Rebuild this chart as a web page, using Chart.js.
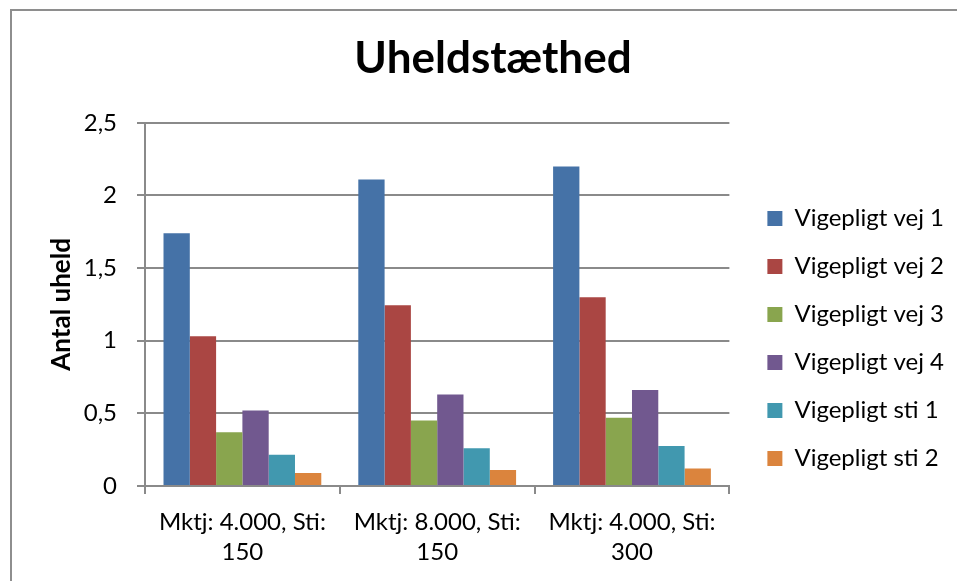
<!DOCTYPE html>
<html>
<head>
<meta charset="utf-8">
<script src="https://cdn.jsdelivr.net/npm/chart.js@4"></script>
<style>
  html, body { margin: 0; padding: 0; background: #fff; overflow: hidden; }
  #frame { position: absolute; left: 10px; top: 9px; width: 1000px; height: 700px; border: 2px solid #8e8e8e; }
  #wrap { position: absolute; left: 0; top: 0; width: 957px; height: 581px; }
</style>
</head>
<body>
<div id="frame"></div>
<div id="wrap"><canvas id="chart"></canvas></div>
<script>
const categories = [
    ['Mktj: 4.000, Sti:', '150'],
    ['Mktj: 8.000, Sti:', '150'],
    ['Mktj: 4.000, Sti:', '300']
];
const seriesNames = ['Vigepligt vej 1', 'Vigepligt vej 2', 'Vigepligt vej 3', 'Vigepligt vej 4', 'Vigepligt sti 1', 'Vigepligt sti 2'];
const vej1 = [1.74, 2.11, 2.20];
const vej2 = [1.03, 1.245, 1.30];
const vej3 = [0.37, 0.45, 0.47];
const vej4 = [0.52, 0.63, 0.66];
const sti1 = [0.215, 0.26, 0.275];
const sti2 = [0.09, 0.11, 0.12];
const colors = ['#4572a7', '#aa4643', '#89a54e', '#71588f', '#4198af', '#db843d'];

const fontFamily = 'Lato, "Open Sans", sans-serif';
const axisColor = '#8a8a8a';

// nudge the legend to where the reference has it
const legendShift = {
    id: 'legendShift',
    afterLayout(chart) {
        const lg = chart.legend;
        if (!lg) return;
        lg.top += 46;
        lg.bottom += 46;
        lg.left += 14;
        lg.right += 14;
    }
};

const data = [vej1, vej2, vej3, vej4, sti1, sti2];

new Chart(document.getElementById('chart'), {
    type: 'bar',
    plugins: [legendShift],
    data: {
        labels: categories,
        datasets: seriesNames.map((name, i) => ({
            label: name,
            data: data[i],
            backgroundColor: colors[i],
            borderWidth: 0
        }))
    },
    options: {
        responsive: true,
        maintainAspectRatio: false,
        animation: false,
        layout: { padding: { left: 46, right: 17, top: 10, bottom: 6 } },
        datasets: { bar: { categoryPercentage: 0.81, barPercentage: 1.0 } },
        plugins: {
            title: {
                display: true,
                text: 'Uheldstæthed',
                color: '#000',
                font: { family: fontFamily, size: 44, weight: 'bold' },
                padding: { top: 22, bottom: 38 }
            },
            legend: {
                position: 'right',
                labels: {
                    color: '#000',
                    boxWidth: 15,
                    boxHeight: 15,
                    padding: 24,
                    font: { family: fontFamily, size: 24 }
                }
            },
            tooltip: { enabled: false }
        },
        scales: {
            x: {
                grid: { display: true, drawOnChartArea: false, color: axisColor, lineWidth: 2, tickLength: 8 },
                border: { color: axisColor, width: 2 },
                ticks: {
                    color: '#000',
                    padding: 13,
                    maxRotation: 0,
                    font: { family: fontFamily, size: 24, lineHeight: 1.25 }
                },
                afterFit: scale => { scale.height = 89; }
            },
            y: {
                min: 0,
                max: 2.5,
                ticks: {
                    stepSize: 0.5,
                    color: '#000',
                    padding: 20,
                    font: { family: fontFamily, size: 24 },
                    callback: v => String(v).replace('.', ',')
                },
                grid: { color: axisColor, lineWidth: 2, tickLength: 8 },
                border: { color: axisColor, width: 2 },
                title: {
                    display: true,
                    text: 'Antal uheld',
                    color: '#000',
                    font: { family: fontFamily, size: 26, weight: 'bold' },
                    padding: { top: 0, bottom: 4 }
                },
                afterFit: scale => { scale.width = 99; }
            }
        }
    }
});
</script>
</body>
</html>
